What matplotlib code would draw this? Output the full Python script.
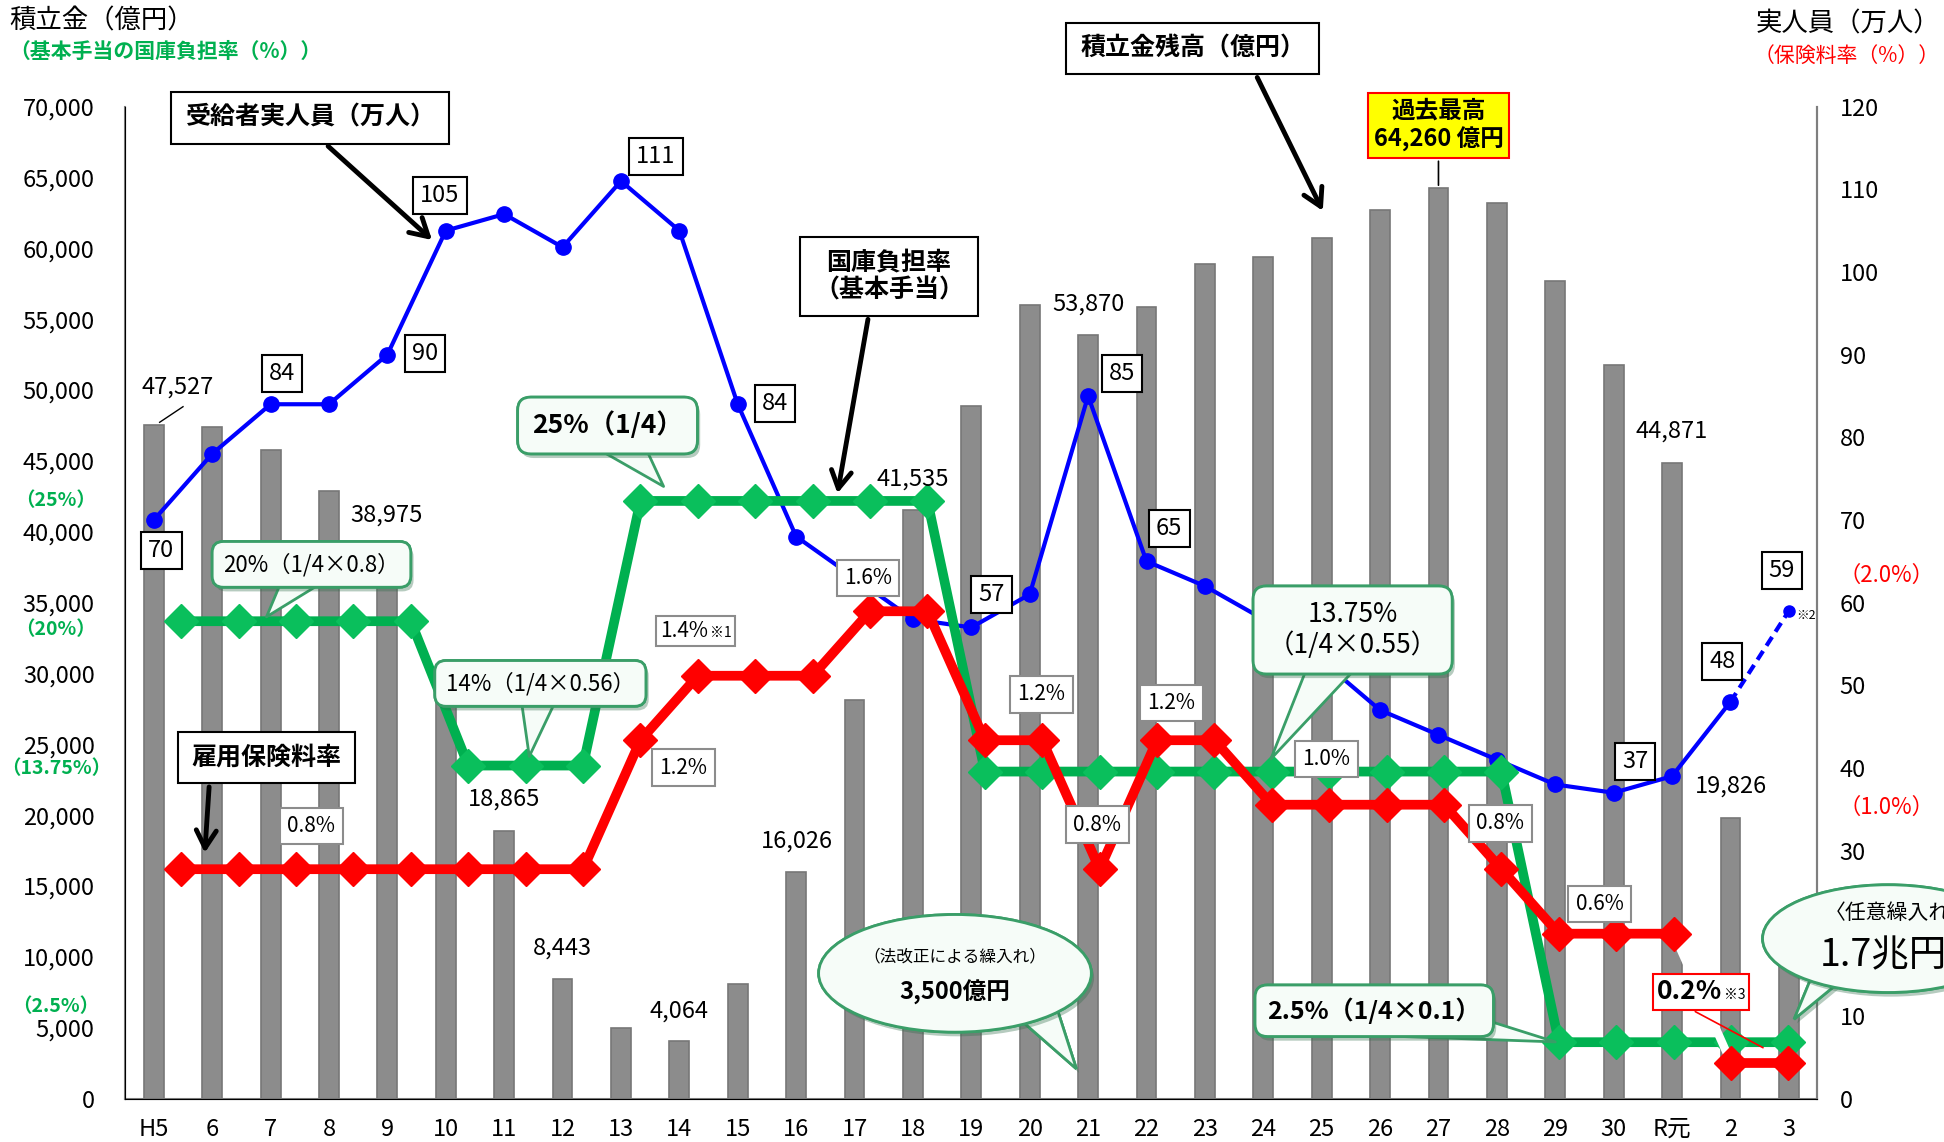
import numpy as np
import matplotlib
matplotlib.use("Agg")
import matplotlib.pyplot as plt
from matplotlib.ticker import FuncFormatter
from matplotlib.patches import Ellipse, Polygon
from matplotlib.offsetbox import TextArea, HPacker, AnnotationBbox
import matplotlib.patheffects as pe

plt.rcParams["font.family"] = ["Noto Sans CJK JP", "DejaVu Sans"]

# ── Data ───────────────────────────────────────────────────
years = ["H5", "6", "7", "8", "9", "10", "11", "12", "13", "14", "15", "16",
         "17", "18", "19", "20", "21", "22", "23", "24", "25", "26", "27",
         "28", "29", "30", "R元", "2", "3"]

# 積立金残高 (億円)
reserve = [47527, 47400, 45800, 42900, 38975, 30000, 18865, 8443, 5000,
           4064, 8100, 16026, 28100, 41535, 48900, 56000, 53870, 55850,
           58870, 59400, 60750, 62700, 64260, 63200, 57700, 51800, 44871,
           19826, 13000]

# 受給者実人員 (万人)
recipients = [70, 78, 84, 84, 90, 105, 107, 103, 111, 105, 84, 68, 63, 58,
              57, 61, 85, 65, 62, 58, 53, 47, 44, 41, 38, 37, 39, 48, 59]

# 雇用保険料率 (%)
premium_rate = [0.8, 0.8, 0.8, 0.8, 0.8, 0.8, 0.8, 0.8, 1.2, 1.4, 1.4, 1.4,
                1.6, 1.6, 1.2, 1.2, 0.8, 1.2, 1.2, 1.0, 1.0, 1.0, 1.0, 0.8,
                0.6, 0.6, 0.6, 0.2, 0.2]

# 国庫負担率 基本手当 (%)
subsidy_rate = [20, 20, 20, 20, 20, 14, 14, 14, 25, 25, 25, 25, 25, 25,
                13.75, 13.75, 13.75, 13.75, 13.75, 13.75, 13.75, 13.75,
                13.75, 13.75, 2.5, 2.5, 2.5, 2.5, 2.5]

# labelled points
bar_label_idx = [0, 4, 6, 7, 9, 11, 13, 16, 26, 27]
blue_label_idx = [0, 2, 4, 5, 8, 10, 14, 16, 17, 25, 27, 28]
red_label_idx = [3, 8, 12, 14, 16, 17, 19, 23, 24]

GREEN = "#00B050"
GREEN_MK = "#0ABF5C"
RED = "#FF0000"
BLUE = "#0000FF"
BAR = "#8C8C8C"
CALL_FC = "#F6FCF8"
CALL_EC = "#3A9E68"

x = np.arange(len(years))
pos = [0.0644, 0.038, 0.8705, 0.8686]
XLIM = (-0.49, 28.49)
# green / red series sit on a slightly shifted category scale
RG_A, RG_B = 0.47, 0.983
XLIM_RG = ((XLIM[0] - RG_A) / RG_B, (XLIM[1] - RG_A) / RG_B)

fig = plt.figure(figsize=(19.44, 11.42), dpi=100)

# ── Bars (left axis) ───────────────────────────────────────
ax = fig.add_axes(pos)
ax.bar(x, reserve, width=0.34, color=BAR, edgecolor="#777777", linewidth=1.2, zorder=2)
ax.set_xlim(*XLIM)
ax.set_ylim(0, 70000)
ax.set_yticks(np.arange(0, 70001, 5000))
ax.yaxis.set_major_formatter(FuncFormatter(lambda v, p: f"{int(v):,}"))
ax.set_xticks(x)
ax.set_xticklabels(years)
ax.tick_params(axis="y", length=0, labelsize=17, pad=22)
ax.tick_params(axis="x", length=0, labelsize=17, pad=14)
ax.spines["top"].set_visible(False)
for s in ["left", "right", "bottom"]:
    ax.spines[s].set_color("#7f7f7f")
    ax.spines[s].set_linewidth(1.5)

# ── Recipients (right axis) ────────────────────────────────
ax_r = ax.twinx()
ax_r.set_ylim(0, 120)
ax_r.set_yticks(np.arange(0, 121, 10))
ax_r.tick_params(axis="y", length=0, labelsize=17, pad=16)
ax_r.spines["top"].set_visible(False)
ax_r.spines["right"].set_color("#7f7f7f")
ax_r.spines["right"].set_linewidth(1.5)
ax_r.plot(x[:-1], recipients[:-1], color=BLUE, lw=3, marker="o", ms=11, zorder=3)
ax_r.plot(x[-2:], recipients[-2:], color=BLUE, lw=3, ls=(0, (2.5, 1.5)), zorder=3)
ax_r.plot(x[-1], recipients[-1], "o", color=BLUE, ms=8, zorder=3)
ax_r.text(x[-1] + 0.12, recipients[-1] - 0.5, "※2", fontsize=9, va="center")

# ── 国庫負担率 (green) ──────────────────────────────────────
ax_g = fig.add_axes(pos, frameon=False)
ax_g.set_xlim(*XLIM_RG)
ax_g.set_ylim(0.155, 41.39)
ax_g.axis("off")
ax_g.plot(x, subsidy_rate, color=GREEN, lw=7, solid_joinstyle="miter",
          marker="D", ms=17, mfc=GREEN_MK, mec=GREEN_MK)

# ── 保険料率 (red) ──────────────────────────────────────────
ax_p = fig.add_axes(pos, frameon=False)
ax_p.set_xlim(*XLIM_RG)
ax_p.set_ylim(0.0885, 3.165)
ax_p.axis("off")
ax_p.plot(x[26:28], premium_rate[26:28], color="white", lw=6)
ax_p.plot(x[:27], premium_rate[:27], color=RED, lw=7, marker="D", ms=17)
ax_p.plot(x[27:], premium_rate[27:], color=RED, lw=7, marker="D", ms=17)

# ── Overlay for labels / callouts ──────────────────────────
ov = fig.add_axes(pos, frameon=False)
ov.set_xlim(*XLIM)
ov.set_ylim(0, 70000)
ov.axis("off")

shadow = [pe.withSimplePatchShadow(offset=(2, -3), shadow_rgbFace="#2f6b48", alpha=0.35), pe.Normal()]

# bar value labels
bar_label_pos = [(0.4, 50200), (3.99, 41200), (5.99, 21100), (7.0, 10600),
                 (9.0, 6200), (11.02, 18200), (12.99, 43750), (16.0, 56100),
                 (25.99, 47100), (27.0, 22050)]
for i, (tx, ty) in zip(bar_label_idx, bar_label_pos):
    ov.text(tx, ty, f"{reserve[i]:,}", ha="center", va="center", fontsize=17)
ov.plot([0.1, 0.5], [reserve[0] + 200, reserve[0] + 1300], color="black", lw=1)

# blue value boxes (right-axis units)
blue_label_pos = [(0.13, 66.3), (2.2, 87.7), (4.65, 90.1), (4.9, 109.3),
                  (8.6, 114), (10.64, 84.1), (14.35, 61), (16.58, 87.7),
                  (17.39, 69), (25.37, 40.8), (26.86, 52.9), (27.88, 63.9)]
for i, (tx, ty) in zip(blue_label_idx, blue_label_pos):
    ov.text(tx, ty, str(recipients[i]), transform=ax_r.transData, ha="center",
            va="center", fontsize=17,
            bbox=dict(boxstyle="square,pad=0.3", fc="white", ec="black", lw=1.5))

# red rate boxes
red_label_pos = [(2.7, 19250), (9.07, 23360), (12.23, 36750),
                 (15.2, 28520), (16.16, 19340), (17.43, 27910), (20.08, 23970),
                 (23.06, 19420), (24.76, 13740)]
for i, (tx, ty) in zip(red_label_idx, red_label_pos):
    ov.text(tx, ty, f"{premium_rate[i]:.1f}%", ha="center", va="center", fontsize=15,
            bbox=dict(boxstyle="square,pad=0.35", fc="white", ec="#8c8c8c", lw=1.5))


def noted_box(value_txt, note, center, size, weight, ec, tip=None):
    pack = HPacker(children=[TextArea(value_txt, textprops=dict(size=size, fontweight=weight)),
                             TextArea(note, textprops=dict(size=10))],
                   align="baseline", pad=0, sep=1)
    ab = AnnotationBbox(pack, tip if tip else center, xybox=center, xycoords="data",
                        boxcoords="data", frameon=True, pad=0.35,
                        bboxprops=dict(boxstyle="square,pad=0.3", fc="white", ec=ec, lw=1.5),
                        arrowprops=dict(arrowstyle="-", color=ec, lw=1.2,
                                        relpos=(0.3, 0)) if tip else None,
                        annotation_clip=False, zorder=9)
    ov.add_artist(ab)


noted_box(f"{premium_rate[9]:.1f}%", "※1", (9.28, 32990), 15, "normal", "#8c8c8c")
noted_box(f"{premium_rate[27]:.1f}%", "※3", (26.5, 7530), 19, "bold", RED, tip=(27.6, 3500))


# green callouts
def callout(text, tip, center, bold=False, size=16, tail=2.0, pad=0.5):
    a = ov.annotate(text, xy=tip, xytext=center, ha="center", va="center",
                    fontsize=size, fontweight="bold" if bold else "normal",
                    bbox=dict(boxstyle=f"round,pad={pad},rounding_size=0.5",
                              fc=CALL_FC, ec=CALL_EC, lw=2),
                    arrowprops=dict(arrowstyle=f"wedge,tail_width={tail},shrink_factor=0.5",
                                    fc=CALL_FC, ec=CALL_EC, lw=2, patchA=None,
                                    shrinkA=0, shrinkB=0),
                    annotation_clip=False, zorder=10)
    a.get_bbox_patch().set_path_effects(shadow)
    return a


callout("25%（1/4）", (8.73, 43200), (7.77, 47500), bold=True, size=19, pad=0.55)
callout("20%（1/4×0.8）", (1.93, 34000), (2.7, 37700), size=16)
callout("14%（1/4×0.56）", (6.43, 24150), (6.62, 29300), size=16)
callout("13.75%\n（1/4×0.55）", (19.13, 23970), (20.53, 33070), size=19, tail=2.2, pad=0.55)
callout("2.5%（1/4×0.1）", (24.0, 4000), (20.9, 6200), bold=True, size=18)


# speech bubbles drawn as ellipse + tail
def bubble(center, w, h, tail_pts, tip):
    tail = Polygon([tail_pts[0], tip, tail_pts[1]], closed=True, fc=CALL_FC,
                   ec=CALL_EC, lw=2, zorder=10, clip_on=False)
    ell = Ellipse(center, w, h, fc=CALL_FC, ec=CALL_EC, lw=2, zorder=10, clip_on=False)
    tail.set_path_effects(shadow)
    ell.set_path_effects(shadow)
    ov.add_patch(tail)
    ov.add_patch(ell)
    # cover the inner edge of the tail
    ov.add_patch(Ellipse(center, w * 0.97, h * 0.94, fc=CALL_FC, ec="none",
                         zorder=10, clip_on=False))


bubble((13.72, 8840), 4.67, 8300, [(14.78, 5780), (15.41, 7090)], (15.8, 2100))
ov.text(13.72, 10000, "（法改正による繰入れ）", ha="center", va="center", fontsize=12, zorder=11)
ov.text(13.72, 7500, "3,500億円", ha="center", va="center", fontsize=17,
        fontweight="bold", zorder=11)

ov.annotate("約1.3兆", xy=(28.68, 12780), xytext=(27.79, 16280), ha="center",
            va="center", fontsize=16,
            bbox=dict(boxstyle="square,pad=0.3", fc="white", ec="#8c8c8c", lw=1.5),
            arrowprops=dict(arrowstyle="-", color="black", lw=1.2, relpos=(0.8, 0)),
            zorder=9)

bubble((29.7, 11290), 4.3, 7600, [(28.4, 8700), (28.8, 8000)], (28.09, 5600))
ov.text(28.62, 12350, "〈任意繰入れ〉", ha="left", va="bottom", fontsize=15,
        zorder=11, clip_on=False)
ov.text(28.53, 11450, "1.7兆円", ha="left", va="top", fontsize=27, zorder=11,
        clip_on=False)

# black boxed titles with arrows
box_kw = dict(boxstyle="square,pad=0.55", fc="white", ec="black", lw=1.5)
arrow_kw = dict(arrowstyle="->,head_length=0.7,head_width=0.4", color="black", lw=3.5)
ov.annotate("受給者実人員（万人）", xy=(4.8, 60460), xytext=(2.675, 69210),
            ha="center", va="center", fontsize=18, fontweight="bold", bbox=box_kw,
            arrowprops=dict(arrow_kw, relpos=(0.5, 0)), annotation_clip=False, zorder=12)
ov.annotate("積立金残高（億円）", xy=(20.04, 62470), xytext=(17.79, 74110),
            ha="center", va="center", fontsize=18, fontweight="bold", bbox=box_kw,
            arrowprops=dict(arrow_kw, relpos=(0.75, 0)), annotation_clip=False, zorder=12)
ov.annotate("国庫負担率\n（基本手当）", xy=(11.7, 42520), xytext=(12.59, 58010),
            ha="center", va="center", fontsize=18, fontweight="bold", bbox=box_kw,
            linespacing=1.15,
            arrowprops=dict(arrow_kw, relpos=(0.38, 0)), annotation_clip=False, zorder=12)
ov.annotate("雇用保険料率", xy=(0.87, 17150), xytext=(1.93, 24060),
            ha="center", va="center", fontsize=18, fontweight="bold", bbox=box_kw,
            arrowprops=dict(arrow_kw, relpos=(0.125, 0)), annotation_clip=False, zorder=12)
ov.annotate("過去最高\n64,260 億円", xy=(22, reserve[22]), xytext=(22.0, 68690),
            ha="center", va="center", fontsize=17, fontweight="bold", linespacing=1.2,
            bbox=dict(boxstyle="square,pad=0.25", fc="#FFFF00", ec=RED, lw=1.5),
            arrowprops=dict(arrowstyle="-", color="black", lw=1.2, relpos=(0.5, 0)),
            annotation_clip=False, zorder=12)

# green / red axis value hints
for lab, yv in [("（25%）", 42180), ("（20%）", 33080), ("（13.75%）", 23280), ("（2.5%）", 6480)]:
    ov.text(-1.68, yv, lab, ha="center", va="center", fontsize=14, fontweight="bold",
            color=GREEN, clip_on=False)
for lab, yv in [("（2.0%）", 36930), ("（1.0%）", 20560)]:
    ov.text(29.68, yv, lab, ha="center", va="center", fontsize=16, color=RED, clip_on=False)

# axis titles
fig.text(0.005, 0.982, "積立金（億円）", fontsize=19, ha="left", va="center")
fig.text(0.005, 0.955, "（基本手当の国庫負担率（%））", fontsize=15, fontweight="bold",
         color=GREEN, ha="left", va="center")
fig.text(0.998, 0.979, "実人員（万人）", fontsize=19, ha="right", va="center")
fig.text(0.998, 0.951, "（保険料率（%））", fontsize=15, color=RED, ha="right", va="center")

fig.savefig("out.png", dpi=100)
